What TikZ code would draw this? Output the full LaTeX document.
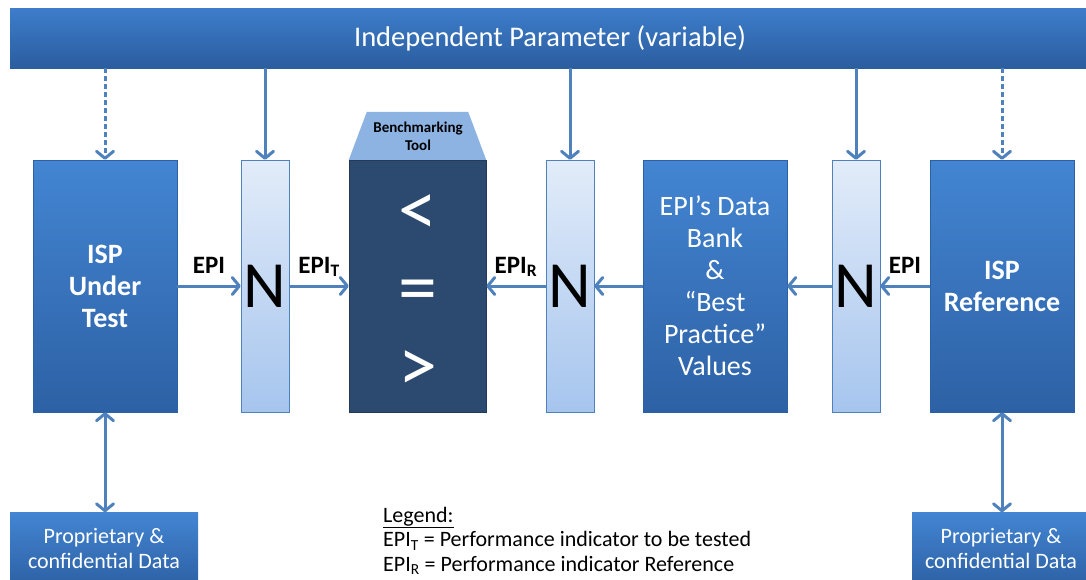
\documentclass[tikz,border=0pt]{standalone}
\usepackage{fontspec}
\setmainfont{Carlito}
\usepackage{tikz}
\usetikzlibrary{arrows.meta,positioning,calc}
\definecolor{bartop}{HTML}{3D7DCB}
\definecolor{barbot}{HTML}{2B5D9E}
\definecolor{unittop}{HTML}{4385D2}
\definecolor{unitbot}{HTML}{2D61A5}
\definecolor{normtop}{HTML}{E2ECF9}
\definecolor{normbot}{HTML}{A6C5EE}
\definecolor{linkblue}{HTML}{4F81BD}
\definecolor{benchnavy}{HTML}{2C4A6F}
\definecolor{toolsky}{HTML}{8DB3E2}
\tikzstyle{param} = [top color=bartop,bottom color=barbot,text=white,minimum width=1080pt,minimum height=60pt,inner sep=0pt,font=\fontsize{28.5}{32}\selectfont]
\tikzstyle{unit} = [top color=unittop,bottom color=unitbot,draw=unitbot,text=white,minimum width=144pt,minimum height=252pt,inner sep=0pt,align=center,font=\fontsize{28}{32}\selectfont]
\tikzstyle{norm} = [top color=normtop,bottom color=normbot,draw=linkblue,minimum width=48pt,minimum height=252pt,inner sep=0pt,font=\fontsize{66}{66}\selectfont]
\tikzstyle{bench} = [fill=benchnavy,draw=benchnavy!80!black,minimum width=137pt,minimum height=252pt,inner sep=0pt]
\tikzstyle{signs} = [text=white,inner sep=0pt,align=center,font=\fontsize{78}{78}\selectfont]
\tikzstyle{toolname} = [inner sep=0pt,align=center,font=\bfseries\fontsize{15}{18}\selectfont]
\tikzstyle{store} = [top color=unittop,bottom color=unitbot,text=white,minimum height=73pt,inner sep=0pt,align=center,font=\fontsize{22}{25}\selectfont]
\tikzstyle{flow} = [draw=linkblue,line width=3pt,-{Straight Barb[length=7pt,width=17pt,round]}]
\tikzstyle{feed} = [flow,dash pattern=on 5pt off 3pt]
\tikzstyle{exchange} = [flow,{Straight Barb[length=7pt,width=17pt,round]}-{Straight Barb[length=7pt,width=17pt,round]}]
\tikzstyle{tag} = [anchor=base,yshift=13pt,inner sep=0pt,font=\bfseries\fontsize{25}{28}\selectfont]
\begin{document}
\begin{tikzpicture}[x=1pt,y=-1pt]
  \useasboundingbox (0,0) rectangle (1086,579);
  \node (param)[param] at (550,38) {Independent Parameter (variable)};

  \node (test)[unit,font=\bfseries\fontsize{28}{32}\selectfont] at (105,286) {ISP\\Under\\Test};
  \node (n1)[norm] at (265,286) {N};
  \node (bench)[bench] at (417.5,286) {};
  \node (signs)[signs] at (418,293) {<\\=\\>};
  \fill[toolsky] (bench.north west) -- ++(18,-48) -- ($(bench.north east)+(-18,-48)$) -- (bench.north east) -- cycle;
  \node (tool)[toolname] at (418,136) {Benchmarking\\Tool};
  \node (n2)[norm] at (570,286) {N};
  \node (bank)[unit] at (715,286) {EPI’s Data\\Bank\\\&\\“Best\\Practice”\\Values};
  \node (n3)[norm] at (856,286) {N};
  \node (ref)[unit,font=\bfseries\fontsize{28}{32}\selectfont] at (1002,286) {ISP\\Reference};

  \node (prop1)[store,minimum width=188pt] at (104,549) {Proprietary \&\\confidential Data};
  \node (prop2)[store,minimum width=178pt] at (1001,549) {Proprietary \&\\confidential Data};

  \node (legend)[anchor=north west,align=left,inner sep=0pt,font=\fontsize{22}{24.5}\selectfont] at (383,507)
    {\underline{Legend:}\\EPI\textsubscript{T} = Performance indicator to be tested\\EPI\textsubscript{R} = Performance indicator Reference};

  % parameter feeds
  \draw[feed] (param.south -| test.north) -- (test.north);
  \draw[flow] (param.south -| n1.north) -- (n1.north);
  \draw[flow] (param.south -| n2.north) -- (n2.north);
  \draw[flow] (param.south -| n3.north) -- (n3.north);
  \draw[feed] (param.south -| ref.north) -- (ref.north);

  % indicator chain
  \draw[flow] (test) -- node[tag] {EPI} (n1);
  \draw[flow] (n1) -- node[tag] {EPI\textsubscript{T}} (bench);
  \draw[flow] (n2) -- node[tag] {EPI\textsubscript{R}} (bench);
  \draw[flow] (bank) -- (n2);
  \draw[flow] (n3) -- (bank);
  \draw[flow] (ref) -- node[tag] {EPI} (n3);

  % private data
  \draw[exchange] (test.south) -- (test.south |- prop1.north);
  \draw[exchange] (ref.south) -- (ref.south |- prop2.north);
\end{tikzpicture}
\end{document}
